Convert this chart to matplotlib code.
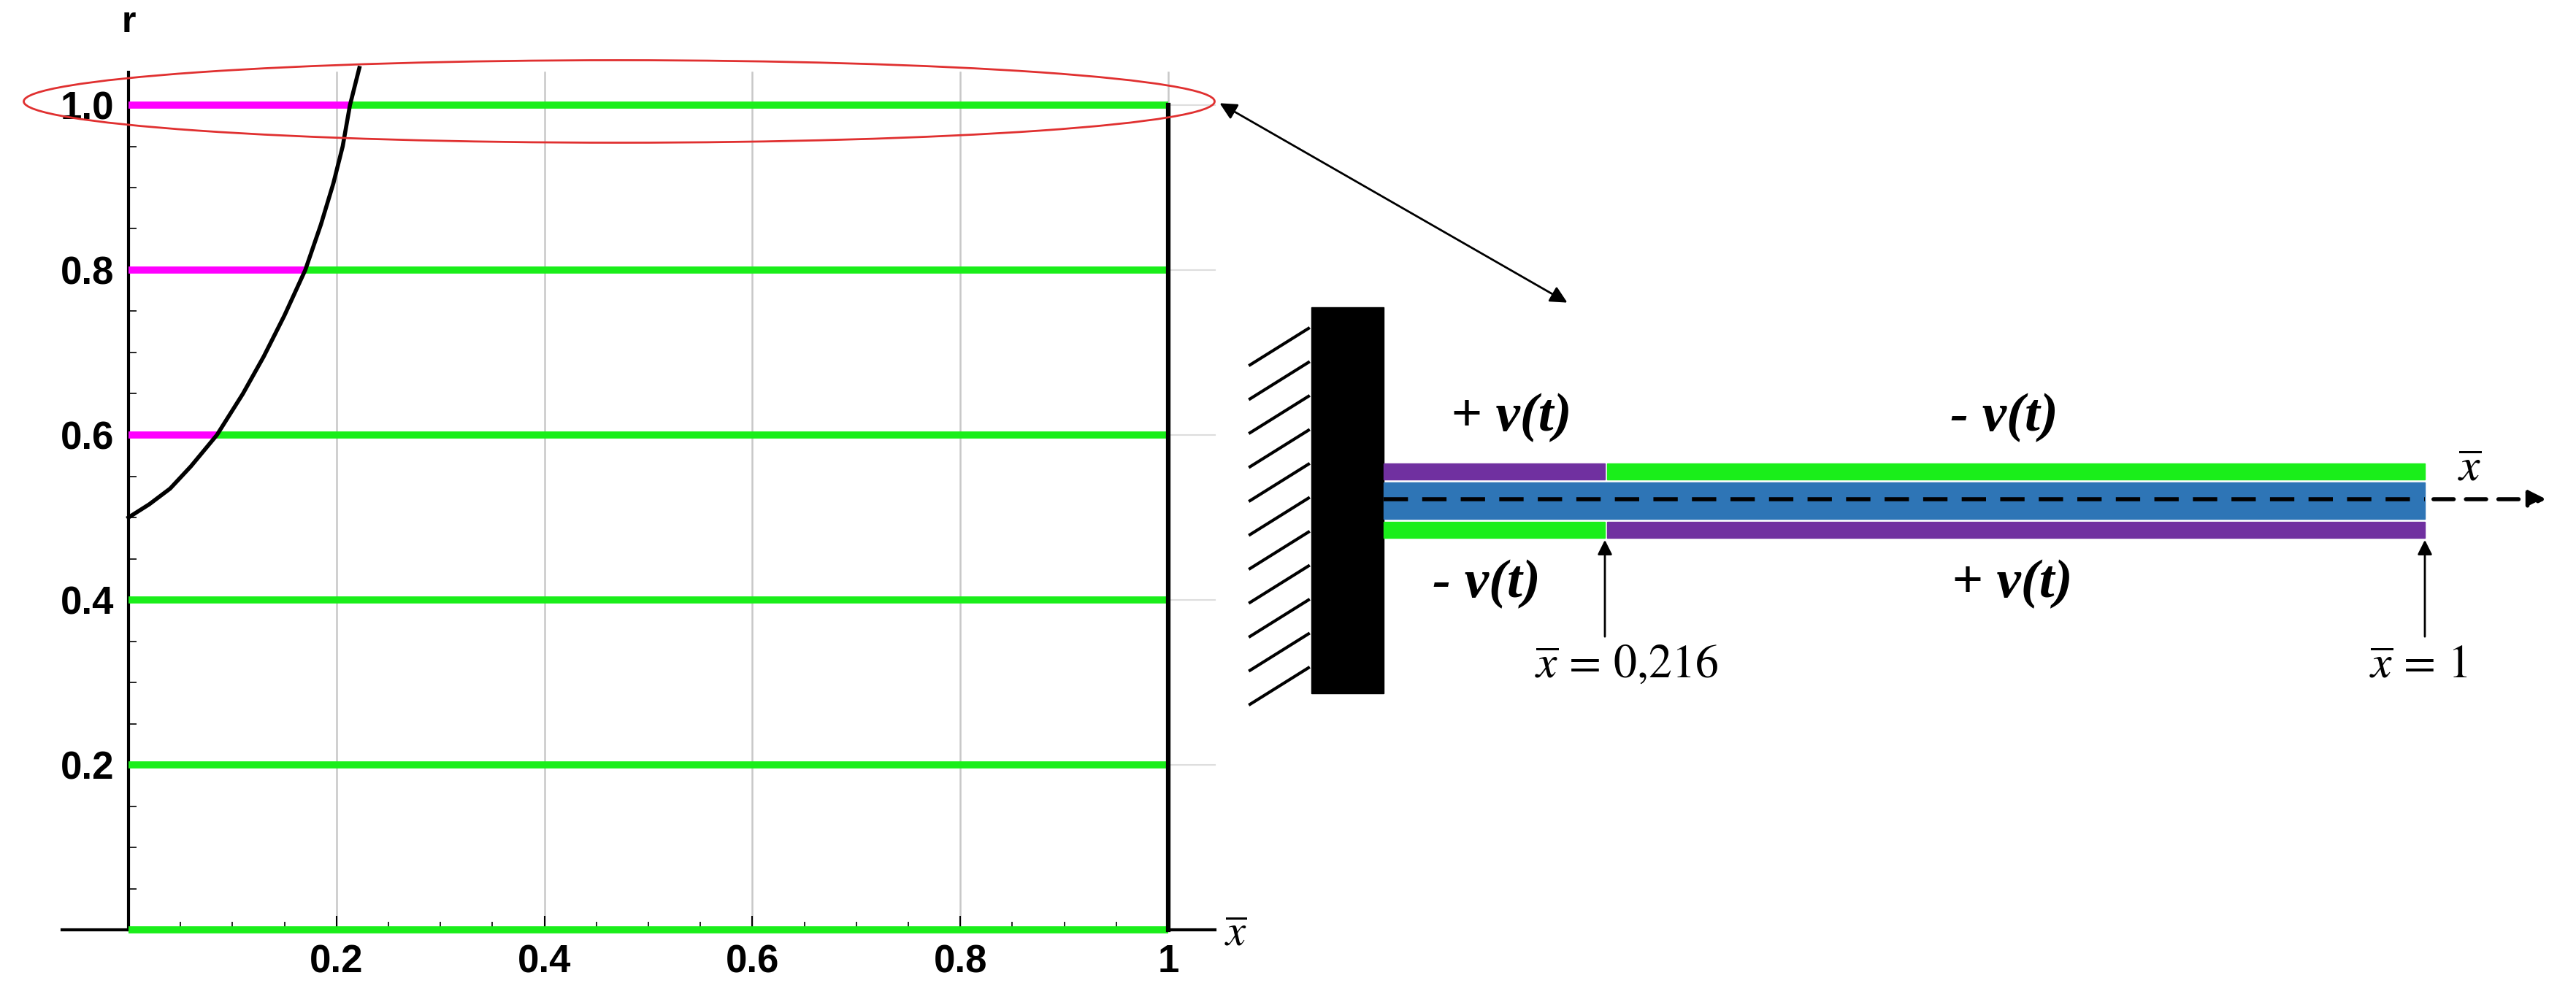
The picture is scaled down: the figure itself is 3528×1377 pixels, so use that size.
import numpy as np
import matplotlib.pyplot as plt
from matplotlib.patches import Rectangle, Ellipse, FancyArrowPatch

plt.rcParams['mathtext.fontset'] = 'stix'

# curve r(x)
curve_x = [0.0, 0.02, 0.04, 0.06, 0.085, 0.11, 0.13, 0.15, 0.17, 0.185, 0.197, 0.206, 0.213, 0.222]
curve_r = [0.5, 0.516, 0.535, 0.562, 0.6, 0.65, 0.695, 0.745, 0.8, 0.855, 0.905, 0.95, 1.0, 1.045]

# level lines and where the curve cuts them
levels = [0.0, 0.2, 0.4, 0.6, 0.8, 1.0]
cuts = [0.0, 0.0, 0.0, 0.085, 0.17, 0.213]

xticks = [0.2, 0.4, 0.6, 0.8, 1.0]
xtick_labels = ['0.2', '0.4', '0.6', '0.8', '1']
yticks = [0.2, 0.4, 0.6, 0.8, 1.0]
ytick_labels = ['0.2', '0.4', '0.6', '0.8', '1.0']

GREEN = '#1aee1a'
MAGENTA = '#ff00ff'
PURPLE = '#7030a0'
BLUE = '#2e75b6'

W, H = 3528, 1377
fig = plt.figure(figsize=(W / 100, H / 100), dpi=100)

# left plot, placed in pixels: x=0 at 176, x=1 at 1600, y=0 at 1274, y=1 at 144
px0, px1, py0, py1 = 100, 1680, 1330, 60
ax = fig.add_axes([px0 / W, 1 - py0 / H, (px1 - px0) / W, (py0 - py1) / H])
ax.set_xlim((px0 - 176) / 1424, (px1 - 176) / 1424)
ax.set_ylim((1274 - py0) / 1130, (1274 - py1) / 1130)
ax.patch.set_alpha(0)

for s in ['top', 'right']:
    ax.spines[s].set_visible(False)
ax.spines['left'].set_position(('data', 0))
ax.spines['bottom'].set_position(('data', 0))
ax.spines['left'].set_bounds(0, 1.04)
ax.spines['bottom'].set_bounds(-0.064, 1.045)
ax.spines['left'].set_linewidth(3)
ax.spines['bottom'].set_linewidth(3)

ax.set_xticks(xticks)
ax.set_xticklabels(xtick_labels)
ax.set_yticks(yticks)
ax.set_yticklabels(ytick_labels)
ax.set_xticks(np.arange(0.05, 1.0, 0.05), minor=True)
ax.set_yticks(np.arange(0.05, 1.04, 0.05), minor=True)
ax.tick_params(which='major', direction='in', length=14, width=1.5, labelsize=38, pad=14)
ax.tick_params(which='minor', direction='in', length=8, width=1.2)
for lab in ax.get_xticklabels() + ax.get_yticklabels():
    lab.set_fontweight('bold')
    lab.set_fontfamily('Liberation Sans')

for xv in xticks:
    ax.plot([xv, xv], [0, 1.04], color='#c8c8c8', lw=1.8, zorder=1)
for yv in yticks:
    ax.plot([1.0, 1.045], [yv, yv], color='#dddddd', lw=1.5, zorder=1)

for lv, c in zip(levels, cuts):
    if c > 0:
        ax.plot([0, c], [lv, lv], color=MAGENTA, lw=7, solid_capstyle='butt', zorder=3)
    ax.plot([c, 1.0], [lv, lv], color=GREEN, lw=7, solid_capstyle='butt', zorder=3)

ax.plot([1.0, 1.0], [0, 1.0], color='black', lw=4.5, zorder=4)
ax.plot(curve_x, curve_r, color='black', lw=4, zorder=5, clip_on=False)

ax.text(0, 1.1, 'r', ha='center', va='center', fontsize=36, fontweight='bold',
        family='Liberation Sans')
ax.text(1.065, -0.005, r'$\overline{x}$', ha='center', va='center', fontsize=44)

# overlay in pixel coordinates for the beam sketch and annotations
ov = fig.add_axes([0, 0, 1, 1])
ov.set_xlim(0, W)
ov.set_ylim(H, 0)
ov.axis('off')
ov.patch.set_alpha(0)

ov.add_patch(Ellipse((848, 139), 1631, 113, fill=False, edgecolor='#e03030', lw=2))
ov.add_patch(FancyArrowPatch((1668, 140), (2149, 416), arrowstyle='<|-|>',
                             mutation_scale=35, color='black', lw=2))

# wall and hatching
ov.add_patch(Rectangle((1796, 421), 99, 529, color='black'))
for yh in np.linspace(450, 915, 11):
    ov.plot([1712, 1792], [yh + 50, yh], color='black', lw=3)

# beam layers
x_start, x_split, x_end = 1895, 2198, 3321
ov.add_patch(Rectangle((x_start, 635), x_split - x_start, 22, color=PURPLE))
ov.add_patch(Rectangle((x_split + 3, 635), x_end - x_split - 3, 22, color=GREEN))
ov.add_patch(Rectangle((x_start, 661), x_end - x_start, 50, color=BLUE))
ov.add_patch(Rectangle((x_start, 715), x_split - x_start, 22, color=GREEN))
ov.add_patch(Rectangle((x_split + 3, 715), x_end - x_split - 3, 22, color=PURPLE))
ov.plot([x_start, x_end], [684, 684], color='black', lw=4, dashes=(6, 3.5))
ov.add_patch(FancyArrowPatch((3330, 684), (3490, 684), arrowstyle='-|>', mutation_scale=35,
                             color='black', lw=4, linestyle=(0, (5, 3))))

vfont = dict(fontsize=54, fontweight='bold', style='italic', family='Liberation Serif',
             ha='center', va='center')
ov.text(2070, 572, '+ v(t)', **vfont)
ov.text(2745, 572, '- v(t)', **vfont)
ov.text(2036, 800, '- v(t)', **vfont)
ov.text(2756, 800, '+ v(t)', **vfont)

for xa in [x_split, x_end]:
    ov.add_patch(FancyArrowPatch((xa, 875), (xa, 737), arrowstyle='-|>', mutation_scale=30,
                                 color='black', lw=2))
ov.text(2228, 910, r'$\overline{x}\,=\,0{,}216$', ha='center', va='center', fontsize=46)
ov.text(3312, 910, r'$\overline{x}\,=\,1$', ha='center', va='center', fontsize=46)
ov.text(3382, 641, r'$\overline{x}$', ha='center', va='center', fontsize=46)

fig.savefig('out.png', dpi=100, facecolor='white')
